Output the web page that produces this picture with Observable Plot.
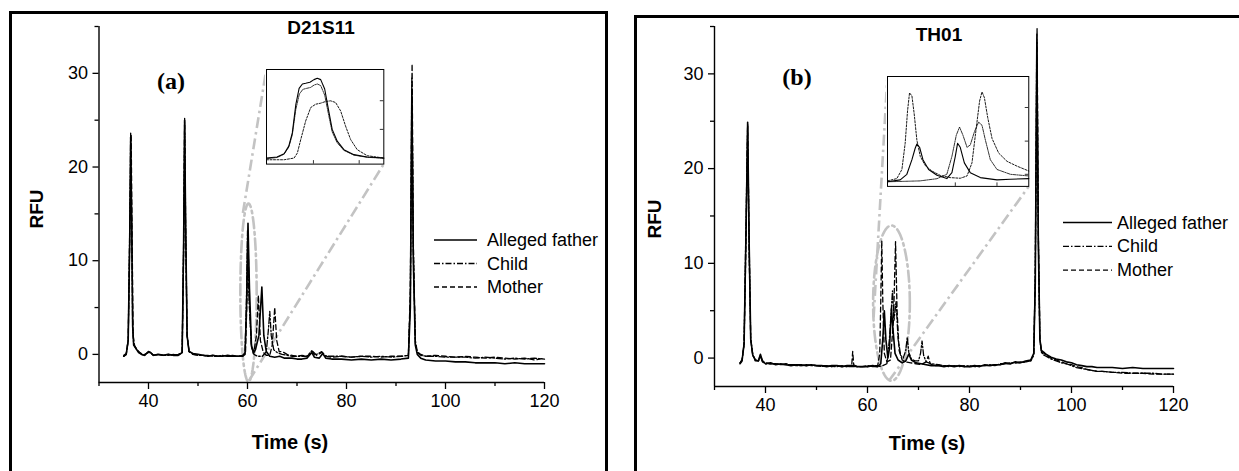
<!DOCTYPE html>
<html><head><meta charset="utf-8">
<script src="https://cdn.jsdelivr.net/npm/d3@7"></script>
<script src="https://cdn.jsdelivr.net/npm/@observablehq/plot@0.6"></script>
<style>
html,body{margin:0;padding:0;background:#fff;}
#root{position:relative;width:1239px;height:471px;overflow:hidden;font-family:"Liberation Sans",Arial,sans-serif;}
.frame{position:absolute;box-sizing:border-box;border:3px solid #000;}
#root svg [aria-label$="tick label"], #root svg [aria-label$="tick label"] text{font-size:18px !important;font-family:"Liberation Sans",Arial,sans-serif;}
</style></head><body><div id="root"></div>
<script>
// ---------- data ----------
const series = ["Alleged father", "Child", "Mother"];
const xDomain = [30, 120], yDomain = [-3, 35];
const xMajor = [40, 60, 80, 100, 120], xMinor = [30, 50, 70, 90, 110];
const yMajor = [0, 10, 20, 30], yMinor = [5, 15, 25, 35];

// Panel (a) D21S11  [time (s), RFU]
const fatherA = [[35.0,-0.2],[35.5,0.0],[35.9,1.5],[36.2,12],[36.4,23.2],[36.6,14],[36.8,3],[37.0,1.0],[37.5,0.6],[38.0,0.2],[38.6,0.0],[39.2,-0.1],[40.0,0.3],[40.4,0.2],[41,-0.1],[42,0.0],[43,-0.1],[44,0.0],[45,-0.1],[46,-0.1],[46.8,0.2],[47.1,12],[47.3,25.0],[47.5,14],[47.8,2],[48.2,0.3],[49,0.1],[50,0.0],[51,-0.1],[52,-0.2],[53,-0.1],[54,-0.2],[55,-0.2],[56,-0.1],[57,-0.2],[58,-0.2],[59,-0.2],[59.5,0.0],[59.8,5],[60.1,14.0],[60.4,7],[60.8,1.0],[61.2,0.1],[61.6,0.5],[62.3,2],[62.9,7.2],[63.3,2],[63.8,0.3],[64.5,-0.2],[65.5,-0.3],[66.5,-0.2],[67.5,-0.4],[69,-0.4],[70,-0.5],[71,-0.5],[72,-0.4],[73,0.2],[73.5,-0.3],[74.5,-0.4],[75.2,0.1],[75.8,-0.4],[77,-0.5],[79,-0.5],[81,-0.6],[83,-0.5],[85,-0.6],[87,-0.5],[89,-0.6],[91,-0.5],[92.5,-0.4],[92.9,5],[93.2,28.3],[93.5,10],[93.9,1],[94.3,0.0],[95,-0.4],[96,-0.6],[98,-0.7],[100,-0.7],[102,-0.8],[104,-0.8],[106,-0.9],[108,-0.9],[110,-0.9],[112,-1.0],[114,-0.9],[116,-1.0],[118,-1.0],[120,-1.0]];
const childA = [[35.0,-0.2],[35.5,0.0],[35.9,1.5],[36.2,13],[36.4,23.7],[36.6,14],[36.8,3],[37.0,1.1],[37.5,0.6],[38.0,0.3],[38.6,0.0],[39.2,-0.1],[40.0,0.3],[40.4,0.2],[41,-0.1],[42,0.0],[43,-0.1],[44,-0.1],[45,0.0],[46,-0.1],[46.8,0.2],[47.1,12],[47.3,25.2],[47.5,14],[47.8,2],[48.2,0.3],[49,0.0],[50,-0.1],[51,-0.1],[52,-0.1],[53,-0.2],[54,-0.2],[55,-0.1],[56,-0.2],[57,-0.2],[58,-0.2],[59,-0.2],[59.5,0.2],[59.8,6],[60.0,13.2],[60.3,6],[60.8,0.8],[61.3,0.0],[62,-0.2],[63,-0.2],[63.8,0.3],[64.2,2.5],[64.5,4.6],[64.8,2],[65.3,0.5],[66,0.2],[67,0.0],[68,-0.1],[69,-0.2],[70,-0.2],[71,-0.2],[72,-0.2],[73,0.4],[73.6,-0.1],[75,0.3],[75.8,-0.2],[77,-0.2],[79,-0.2],[81,-0.3],[83,-0.2],[85,-0.3],[87,-0.2],[89,-0.3],[91,-0.2],[92.5,-0.1],[92.9,6],[93.2,29.5],[93.5,11],[93.9,1.2],[94.3,0.2],[95,-0.1],[96,-0.2],[98,-0.2],[100,-0.3],[102,-0.3],[104,-0.3],[106,-0.4],[108,-0.3],[110,-0.4],[112,-0.5],[114,-0.4],[116,-0.5],[118,-0.4],[120,-0.5]];
const motherA = [[35.0,-0.1],[35.5,0.1],[35.9,1.5],[36.2,12],[36.5,23.5],[36.7,12],[36.9,2],[37.2,0.9],[37.8,0.4],[38.5,0.1],[39.2,0.0],[40.0,0.2],[40.5,0.1],[41,-0.1],[42,0.0],[43,-0.1],[44,0.0],[45,-0.1],[46,0.0],[46.8,0.2],[47.1,11],[47.3,24.8],[47.5,13],[47.8,2],[48.2,0.3],[49,0.0],[50,-0.1],[51,-0.1],[52,-0.2],[53,-0.1],[54,-0.2],[55,-0.1],[56,-0.2],[57,-0.1],[58,-0.2],[59,-0.1],[59.6,0.2],[59.9,6],[60.1,12.5],[60.4,5],[60.8,0.8],[61.3,0.3],[61.8,2],[62.2,6.3],[62.6,1.5],[63.2,0.2],[63.8,-0.1],[64.5,-0.1],[65.0,1],[65.5,5.0],[65.9,1.5],[66.4,0.3],[67,0.3],[68,0.0],[69,-0.1],[70,-0.2],[71,-0.1],[72,-0.2],[73.2,0.3],[74,-0.1],[75,0.2],[76,-0.2],[77,-0.3],[79,-0.2],[81,-0.3],[83,-0.2],[85,-0.2],[87,-0.3],[89,-0.2],[91,-0.2],[92.5,-0.1],[92.9,7],[93.25,31.0],[93.5,12],[93.9,1.5],[94.3,0.3],[95,0.0],[96,-0.2],[98,-0.1],[100,-0.2],[102,-0.3],[104,-0.2],[106,-0.3],[108,-0.4],[110,-0.3],[112,-0.4],[114,-0.5],[116,-0.4],[118,-0.6],[120,-0.4]];

// Panel (b) TH01
const fatherB = [[35.0,-0.6],[35.4,-0.3],[35.8,1.5],[36.2,14],[36.5,24.9],[36.8,12],[37.1,2],[37.5,0.3],[38.0,-0.2],[38.6,-0.3],[39.0,0.4],[39.4,-0.3],[40,-0.6],[41,-0.5],[42,-0.7],[43,-0.6],[44,-0.7],[45,-0.8],[46,-0.7],[47,-0.7],[48,-0.8],[49,-0.7],[50,-0.8],[51,-0.8],[52,-0.9],[53,-0.8],[54,-0.8],[55,-0.9],[56,-0.8],[57,-0.8],[58,-0.9],[59,-0.9],[60,-0.9],[61,-0.8],[62,-0.9],[62.6,-0.6],[63.0,2],[63.3,5.0],[63.6,2],[64.0,0.0],[64.3,1],[64.7,5.2],[65.0,3],[65.4,0.5],[66,-0.2],[66.8,-0.5],[67.5,-0.3],[68.1,0.4],[68.6,-0.2],[69.5,-0.5],[70.5,-0.6],[71.5,-0.7],[72.5,-0.8],[74,-0.8],[75,-0.9],[76,-0.8],[77,-0.9],[78,-0.8],[79,-0.9],[80,-0.9],[81,-0.8],[82,-0.9],[83,-0.7],[84,-0.8],[85,-0.7],[86,-0.7],[87,-0.5],[88,-0.6],[89,-0.4],[90,-0.5],[91,-0.3],[92,-0.2],[92.6,0.5],[92.9,8],[93.2,33.3],[93.5,12],[93.8,2],[94.1,0.8],[94.6,0.6],[95,0.4],[96,0.1],[97,-0.1],[98,-0.2],[99,-0.4],[100,-0.5],[101,-0.7],[102,-0.8],[103,-0.9],[104,-0.9],[105,-1.0],[106,-1.0],[108,-1.0],[110,-1.1],[112,-1.0],[114,-1.1],[116,-1.1],[118,-1.1],[120,-1.1]];
const childB = [[35.0,-0.5],[35.4,-0.2],[35.8,1.5],[36.2,15],[36.5,24.5],[36.8,12],[37.1,2],[37.5,0.3],[38.0,-0.3],[38.6,-0.3],[39.0,0.2],[39.4,-0.4],[40,-0.6],[41,-0.6],[42,-0.6],[43,-0.7],[44,-0.7],[45,-0.7],[46,-0.8],[47,-0.8],[48,-0.7],[49,-0.8],[50,-0.8],[51,-0.9],[52,-0.8],[53,-0.9],[54,-0.9],[55,-0.8],[56,-0.9],[57,-0.9],[58,-0.9],[59,-0.9],[60,-0.8],[61,-0.9],[62,-0.9],[63,-0.8],[63.8,-0.6],[64.3,2],[64.9,7.1],[65.2,4],[65.6,6.0],[66.0,2],[66.5,0.3],[67,0.0],[67.5,0.8],[67.8,2.2],[68.1,0.6],[68.6,-0.1],[69.3,-0.3],[70,-0.3],[70.4,0.5],[70.7,1.8],[71.0,0.3],[71.5,-0.4],[72.5,-0.6],[74,-0.7],[75,-0.8],[76,-0.8],[77,-0.9],[78,-0.8],[79,-0.9],[80,-0.8],[81,-0.9],[82,-0.8],[83,-0.8],[84,-0.7],[85,-0.8],[86,-0.6],[87,-0.6],[88,-0.5],[89,-0.5],[90,-0.4],[91,-0.4],[92,-0.3],[92.6,0.3],[92.9,9],[93.2,34.3],[93.5,13],[93.8,2],[94.1,0.6],[94.6,0.3],[95,0.2],[96,-0.1],[97,-0.3],[98,-0.5],[99,-0.6],[100,-0.8],[101,-1.0],[102,-1.1],[103,-1.2],[104,-1.3],[105,-1.4],[106,-1.4],[108,-1.5],[110,-1.5],[112,-1.6],[114,-1.6],[116,-1.6],[118,-1.7],[120,-1.7]];
const motherB = [[35.0,-0.5],[35.4,-0.2],[35.8,1.5],[36.2,13],[36.5,24.7],[36.8,11],[37.1,2],[37.5,0.4],[38.0,-0.2],[38.6,-0.3],[39.0,0.3],[39.4,-0.3],[40,-0.5],[41,-0.6],[42,-0.6],[43,-0.7],[44,-0.6],[45,-0.7],[46,-0.7],[47,-0.8],[48,-0.8],[49,-0.7],[50,-0.8],[51,-0.8],[52,-0.8],[53,-0.9],[54,-0.8],[55,-0.9],[56,-0.9],[56.9,-0.8],[57.1,0.7],[57.3,-0.7],[58,-0.9],[59,-0.9],[60,-0.9],[61,-0.8],[62,-0.8],[62.4,0.5],[62.6,6],[62.8,12.4],[63.0,6],[63.3,0.5],[63.8,-0.4],[64.5,-0.2],[65.1,4],[65.5,12.3],[65.8,5],[66.2,0.8],[66.8,-0.2],[67.5,-0.4],[68.5,-0.5],[69.5,-0.6],[70.5,-0.7],[71.5,-0.4],[71.9,0.2],[72.3,-0.6],[73,-0.8],[74,-0.8],[75,-0.8],[76,-0.9],[77,-0.8],[78,-0.9],[79,-0.8],[80,-0.9],[81,-0.9],[82,-0.8],[83,-0.8],[84,-0.8],[85,-0.7],[86,-0.7],[87,-0.6],[88,-0.6],[89,-0.5],[90,-0.5],[91,-0.4],[92,-0.3],[92.6,0.4],[92.9,9],[93.25,34.8],[93.5,13],[93.8,2],[94.1,0.7],[94.6,0.5],[95,0.3],[96,0.0],[97,-0.2],[98,-0.4],[99,-0.6],[100,-0.7],[101,-0.9],[102,-1.0],[103,-1.2],[104,-1.3],[105,-1.4],[106,-1.4],[108,-1.5],[110,-1.6],[112,-1.6],[114,-1.6],[116,-1.7],[118,-1.7],[120,-1.7]];

// Inset curves (relative units 0-100 inside the inset box)
const insetFatherA = [[0,6.4],[9,7.5],[15,11],[19,19],[22,33],[25,63],[27.8,80],[30.6,84.7],[33.4,85.4],[37,86.5],[40.5,89.3],[43.3,90.7],[46.2,89.3],[49.6,79.4],[53.3,54.4],[56,36.7],[60.3,24.2],[66,15.3],[74.5,10],[85.8,7.5],[100,6.4]];
const insetChildA = [[0,5.7],[9,7],[15,10.5],[19,18],[22,31],[25,58],[28,74],[31,79],[34,80],[37.5,81],[40.5,83.5],[43.3,84.7],[46.2,83],[49.6,73],[53.3,50],[56,34],[60.3,22.5],[66,14.5],[74.5,9.5],[85.8,7.2],[100,6.2]];
const insetMotherA = [[0,4.6],[15,4.6],[23.5,6.4],[26.3,11.7],[29.2,26],[33.4,45.6],[37.7,59.8],[41.9,63.3],[46.2,64.4],[50.4,66.2],[54.7,66.9],[58.9,65.1],[63.2,56.2],[67.4,40.2],[71.7,26],[77.3,15.3],[85.8,8.9],[100,6.4]];
const insetFatherB = [[0,4.2],[9,5.9],[13.7,11],[17.3,24.3],[19.6,34.7],[20.8,38.6],[22.7,35.6],[25.1,24.3],[29.1,15.4],[35,10.1],[42,7.1],[45.6,12.5],[48,27.3],[49.6,39.2],[51.5,35.6],[54.4,21.4],[58.6,12.5],[65.7,8],[77.5,5.9],[87,6.5],[100,7.1]];
const insetChildB = [[0,4.2],[23,5],[35,7],[42,11],[45.6,27.3],[48.7,46.6],[51,54],[53.4,46.6],[56.3,35.6],[58.6,37.7],[61.5,49.6],[64.5,58.5],[66.9,55.6],[69.3,42.1],[72.8,24.3],[77.5,15.4],[87,11],[100,9.5]];
const insetMotherB = [[0,5],[6.6,7.1],[10.2,15.4],[12.5,39.2],[14.2,68.8],[15.6,85.2],[17.3,82.2],[18.9,65.9],[20.8,42.1],[23.2,27.3],[26.7,19],[31.4,14],[37.4,10],[44.4,8],[51.5,7.4],[56.3,9.5],[59.8,21.4],[62.9,54],[65.2,77.7],[66.9,86],[68.6,80.7],[70.9,62.9],[74,43.6],[78.7,30.3],[84.6,22.8],[91.7,18.4],[100,14]];
const insetTicksA = {x: [40, 79], y: [36.7, 67]};
const insetTicksB = {x: [48, 77.5], y: [11, 41.2, 71.8]};

// Inset boxes and zoom annotations in main-plot data units
const boxA = {x1: 63.8, x2: 87.5, y1: 20.3, y2: 30.4};
const boxB = {x1: 63.9, x2: 91.6, y1: 18.1, y2: 29.7};
const ellipseA = {cx: 60.2, cy: 6.6, rx: 1.65, ry: 9.5};
const ellipseB = {cx: 64.7, cy: 5.8, rx: 3.6, ry: 8.2};
const connectA = [{from: [59.07, 15.1], corner: "tl"}, {from: [60.3, -2.8], corner: "br"}];
const connectB = [{from: [61.2, 4.3], corner: "tl"}, {from: [64.2, -2.4], corner: "br"}];

// ---------- styles ----------
const lineStyle = [
  {strokeWidth: 1.6, dash: null},
  {strokeWidth: 1.3, dash: "6,2,1.5,2"},
  {strokeWidth: 1.3, dash: "5,3"}
];
const insetStyle = [
  {strokeWidth: 1.1, dash: null},
  {strokeWidth: 0.8, dash: "3,1,1,1"},
  {strokeWidth: 0.9, dash: "2,1.5"}
];
const GRAY = "#c3c3c3";
const FONT = '"Liberation Sans", Arial, sans-serif';
const root = document.getElementById("root");

function ellipsePoints(e) {
  return d3.range(0, 361, 4).map(a => [e.cx + e.rx * Math.cos(a * Math.PI / 180), e.cy + e.ry * Math.sin(a * Math.PI / 180)]);
}
function corner(box, c) {
  return c === "tl" ? [box.x1, box.y2] : c === "tr" ? [box.x2, box.y2] : c === "bl" ? [box.x1, box.y1] : [box.x2, box.y1];
}

function panel(p) {
  const links = p.connect.map(c => { const q = corner(p.box, c.corner); return {x1: c.from[0], y1: c.from[1], x2: q[0], y2: q[1]}; });
  const marks = [
    Plot.line(ellipsePoints(p.ellipse), {x: d => d[0], y: d => d[1], stroke: GRAY, strokeWidth: 2.6, strokeDasharray: "11,4,2.5,4"}),
    Plot.link(links, {x1: "x1", y1: "y1", x2: "x2", y2: "y2", stroke: GRAY, strokeWidth: 2.6, strokeDasharray: "11,4,2.5,4"}),
    ...p.traces.map((arr, i) => Plot.line(arr, {x: d => d[0], y: d => d[1], stroke: "#000", strokeWidth: lineStyle[i].strokeWidth, strokeDasharray: lineStyle[i].dash})),
    Plot.ruleX([xDomain[0]], {stroke: "#000", strokeWidth: 1.4}),
    Plot.ruleY([yDomain[0]], {stroke: "#000", strokeWidth: 1.4}),
    Plot.axisX({ticks: xMajor, tickSize: 7, tickPadding: 5, label: null, strokeWidth: 1.3, fontSize: 18}),
    Plot.axisX({ticks: xMinor, tickSize: 4, tickFormat: () => "", label: null, strokeWidth: 1.3}),
    Plot.axisY({ticks: yMajor, tickSize: 6, tickPadding: 5, label: null, strokeWidth: 1.3, fontSize: 18}),
    Plot.axisY({ticks: yMinor, tickSize: 4, tickFormat: () => "", label: null, strokeWidth: 1.3})
  ];
  const chart = Plot.plot({
    width: p.width, height: 471,
    marginLeft: p.ml, marginRight: p.mr, marginTop: p.mt, marginBottom: p.mb,
    x: {domain: xDomain}, y: {domain: yDomain},
    style: {background: "transparent", fontFamily: FONT, fontSize: "18px", color: "#000", overflow: "visible"},
    marks
  });
  chart.style.position = "absolute";
  chart.style.left = p.left + "px";
  chart.style.top = "0px";
  chart.style.maxWidth = "none";
  root.appendChild(chart);

  // inset positioned by the main scales
  const sx = chart.scale("x"), sy = chart.scale("y");
  const L = sx.apply(p.box.x1), R = sx.apply(p.box.x2), T = sy.apply(p.box.y2), B = sy.apply(p.box.y1);
  const w = R - L, h = B - T;
  const tl = 3.5; // tick length in px
  const inset = Plot.plot({
    width: w + 2, height: h + 2, margin: 1,
    x: {domain: [0, 100], axis: null}, y: {domain: [0, 100], axis: null},
    style: {background: "#fff", overflow: "visible"},
    marks: [
      Plot.ruleX(p.insetTicks.x, {x: d => d, y1: 0, y2: tl / h * 100, stroke: "#000", strokeWidth: 0.8}),
      Plot.ruleY(p.insetTicks.y, {y: d => d, x1: 100 - tl / w * 100, x2: 100, stroke: "#000", strokeWidth: 0.8}),
      ...p.inset.map((arr, i) => Plot.line(arr, {x: d => d[0], y: d => d[1], stroke: "#000", strokeWidth: insetStyle[i].strokeWidth, strokeDasharray: insetStyle[i].dash})),
      Plot.frame({stroke: "#000", strokeWidth: 1})
    ]
  });
  inset.style.position = "absolute";
  inset.style.left = (p.left + L - 1) + "px";
  inset.style.top = (T - 1) + "px";
  inset.style.maxWidth = "none";
  root.appendChild(inset);
}

panel({left: 0, width: 620, ml: 98.5, mr: 76, mt: 26, mb: 89,
  traces: [fatherA, childA, motherA], inset: [insetFatherA, insetChildA, insetMotherA], insetTicks: insetTicksA,
  box: boxA, ellipse: ellipseA, connect: connectA});
panel({left: 620, width: 619, ml: 94, mr: 66, mt: 26, mb: 85,
  traces: [fatherB, childB, motherB], inset: [insetFatherB, insetChildB, insetMotherB], insetTicks: insetTicksB,
  box: boxB, ellipse: ellipseB, connect: connectB});

// ---------- frames ----------
function frame(l, t, w, h) {
  const d = document.createElement("div");
  d.className = "frame";
  Object.assign(d.style, {left: l + "px", top: t + "px", width: w + "px", height: h + "px"});
  root.appendChild(d);
}
frame(9, 11, 599, 500);
frame(634, 15, 640, 500);

// ---------- text & legends ----------
const ov = d3.create("svg").attr("width", 1239).attr("height", 471)
  .style("position", "absolute").style("left", "0px").style("top", "0px").style("pointer-events", "none");
const texts = [
  {t: "D21S11", x: 321, y: 27, size: 19, weight: "bold", font: FONT},
  {t: "TH01", x: 939, y: 34, size: 19, weight: "bold", font: FONT},
  {t: "(a)", x: 171, y: 81, size: 24, weight: "bold", font: '"Liberation Serif", "Times New Roman", serif'},
  {t: "(b)", x: 797, y: 77, size: 24, weight: "bold", font: '"Liberation Serif", "Times New Roman", serif'},
  {t: "Time (s)", x: 290, y: 442, size: 20, weight: "bold", font: FONT},
  {t: "Time (s)", x: 927, y: 443, size: 20, weight: "bold", font: FONT},
  {t: "RFU", x: 36, y: 209, size: 19, weight: "bold", font: FONT, rot: -90},
  {t: "RFU", x: 654, y: 219, size: 19, weight: "bold", font: FONT, rot: -90}
];
texts.forEach(d => {
  ov.append("text").text(d.t)
    .attr("transform", `translate(${d.x},${d.y})` + (d.rot ? ` rotate(${d.rot})` : ""))
    .attr("text-anchor", "middle").attr("dominant-baseline", "central")
    .attr("font-family", d.font).attr("font-size", d.size).attr("font-weight", d.weight).attr("fill", "#000");
});
const legends = [
  {x1: 434, x2: 477, tx: 487, y0: 240, dy: 23.5},
  {x1: 1063, x2: 1112, tx: 1117, y0: 222.5, dy: 23.8}
];
legends.forEach(L => {
  series.forEach((s, i) => {
    const y = L.y0 + i * L.dy;
    ov.append("line").attr("x1", L.x1).attr("x2", L.x2).attr("y1", y).attr("y2", y)
      .attr("stroke", "#000").attr("stroke-width", 1.3).attr("stroke-dasharray", lineStyle[i].dash || null);
    ov.append("text").text(s).attr("x", L.tx).attr("y", y)
      .attr("dominant-baseline", "central").attr("font-family", FONT).attr("font-size", 18).attr("fill", "#000");
  });
});
root.appendChild(ov.node());
</script>
</body></html>
